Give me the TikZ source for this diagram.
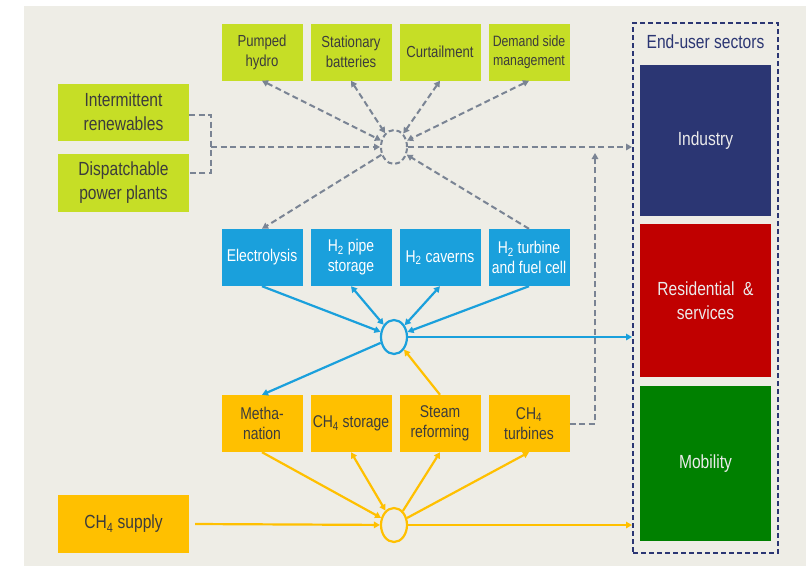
\documentclass[tikz,border=0pt]{standalone}
\usepackage{fontspec}
\setmainfont[FakeStretch=0.82]{Liberation Sans}
\usetikzlibrary{arrows.meta,shapes.geometric}
\definecolor{bg}{HTML}{EEEDE6}
\definecolor{lime}{HTML}{C6DE26}
\definecolor{hblue}{HTML}{1AA0DC}
\definecolor{cyell}{HTML}{FFC000}
\definecolor{dgray}{HTML}{7A8494}
\definecolor{txt}{HTML}{3C3C3C}
\definecolor{navy}{HTML}{2B3673}
\definecolor{sred}{HTML}{C00000}
\definecolor{sgreen}{HTML}{008000}
\begin{document}
\begin{tikzpicture}[x=1pt,y=-1pt,
  box/.style={inner sep=0pt, align=center, minimum width=81pt, minimum height=57pt},
  gbox/.style={box, fill=lime, text=txt, font=\fontsize{16}{20}\selectfont},
  bbox/.style={box, fill=hblue, text=white, font=\fontsize{17}{20}\selectfont},
  ybox/.style={box, fill=cyell, text=txt, font=\fontsize{17}{20}\selectfont},
  wide/.style={minimum width=131pt, minimum height=57pt, font=\fontsize{19}{24}\selectfont},
  hub/.style={ellipse, minimum width=26pt, minimum height=34pt, inner sep=0pt},
  sector/.style={inner sep=0pt, align=center, minimum width=131pt, text=white!92!black, font=\fontsize{19}{24}\selectfont},
  gline/.style={draw=dgray, line width=2pt, dash pattern=on 6pt off 3.5pt},
  bline/.style={draw=hblue, line width=2.2pt},
  yline/.style={draw=cyell, line width=2.2pt},
  >={Triangle[length=6pt,width=6.5pt]}
]
\useasboundingbox (0,0) rectangle (806,566);
\fill[white] (0,0) rectangle (806,566);
\fill[bg] (24,6) rectangle (806,566);

% top green boxes
\node[gbox] (ph) at (262,52) {Pumped\\hydro};
\node[gbox] (sb) at (351,52) {Stationary\\batteries};
\node[gbox] (cu) at (440,52) {Curtailment};
\node[gbox, font=\fontsize{15}{19}\selectfont] (ds) at (529,52) {Demand side\\management};
% left green boxes
\node[gbox, wide] (ir) at (123.5,112) {Intermittent\\renewables};
\node[gbox, wide, minimum height=58pt] (dp) at (123.5,183) {Dispatchable\\power plants};
% blue boxes
\node[bbox] (el) at (262,257.5) {Electrolysis};
\node[bbox] (hp) at (351,257.5) {H\textsubscript{2} pipe\\storage};
\node[bbox] (hc) at (440,257.5) {H\textsubscript{2} caverns};
\node[bbox] (ht) at (529,257.5) {H\textsubscript{2} turbine\\and fuel cell};
% yellow boxes
\node[ybox] (mt) at (262,423.5) {Metha-\\nation};
\node[ybox] (cs) at (351,423.5) {CH\textsubscript{4} storage};
\node[ybox] (sr) at (440,423.5) {Steam\\reforming};
\node[ybox] (ct) at (529,423.5) {CH\textsubscript{4}\\turbines};
\node[ybox, wide, minimum height=58pt] (cp) at (123.5,524) {CH\textsubscript{4} supply};

% hubs
\node[hub, draw=dgray, line width=2pt, dash pattern=on 5pt off 3pt] (gh) at (394,147) {};
\node[hub, draw=hblue, line width=2.2pt] (bh) at (394,337) {};
\node[hub, draw=cyell, line width=2.2pt] (yh) at (394,525) {};

% end-user sectors
\node[draw=navy, line width=2pt, dash pattern=on 5pt off 3pt, minimum width=145pt, minimum height=530pt, inner sep=0pt] (eu) at (705.5,288) {};
\node[text=navy, font=\fontsize{19}{24}\selectfont, inner sep=0pt] (eut) at (705.5,42) {End-user sectors};
\node[sector, fill=navy, minimum height=151pt] (in) at (705.5,140.5) {Industry};
\node[sector, fill=sred, minimum height=153pt] (rs) at (705.5,300.5) {Residential \ \&\\services};
\node[sector, fill=sgreen, minimum height=155pt] (mo) at (705.5,463.5) {Mobility};

% gray dashed connectors
\draw[gline, <->] (ph.south) -- (gh);
\draw[gline, <->] (sb.south) -- (gh);
\draw[gline, <->] (cu.south) -- (gh);
\draw[gline, <->] (ds.south) -- (gh);
\coordinate (jn) at (211,147);
\draw[gline] ([yshift=-3pt]ir.east) -| (jn) |- ([yshift=10pt]dp.east);
\draw[gline, ->] (jn) -- (gh);
\draw[gline, ->] (gh) -- (gh -| eu.west);
\draw[gline, ->] (gh) -- (el.north);
\draw[gline, ->] (ht.north) -- (gh);
\coordinate (tend) at (595,153);
\draw[gline, ->] (ct.east) -| (tend);

% blue connectors
\draw[bline, ->] (el.south) -- (bh);
\draw[bline, <->] (hp.south) -- (bh);
\draw[bline, <->] (hc.south) -- (bh);
\draw[bline, ->] (ht.south) -- (bh);
\draw[bline, ->] (bh) -- (bh -| eu.west);
\draw[bline, ->] (bh) -- (mt.north);

% yellow connectors
\draw[yline, ->] (sr.north) -- (bh);
\draw[yline, ->] (mt.south) -- (yh);
\draw[yline, <->] (cs.south) -- (yh);
\draw[yline, ->] (yh) -- (sr.south);
\draw[yline, ->] (yh) -- (ct.south);
\draw[yline, ->] ([xshift=6pt]cp.east) -- (yh);
\draw[yline, ->] (yh) -- (yh -| eu.west);
\end{tikzpicture}
\end{document}
